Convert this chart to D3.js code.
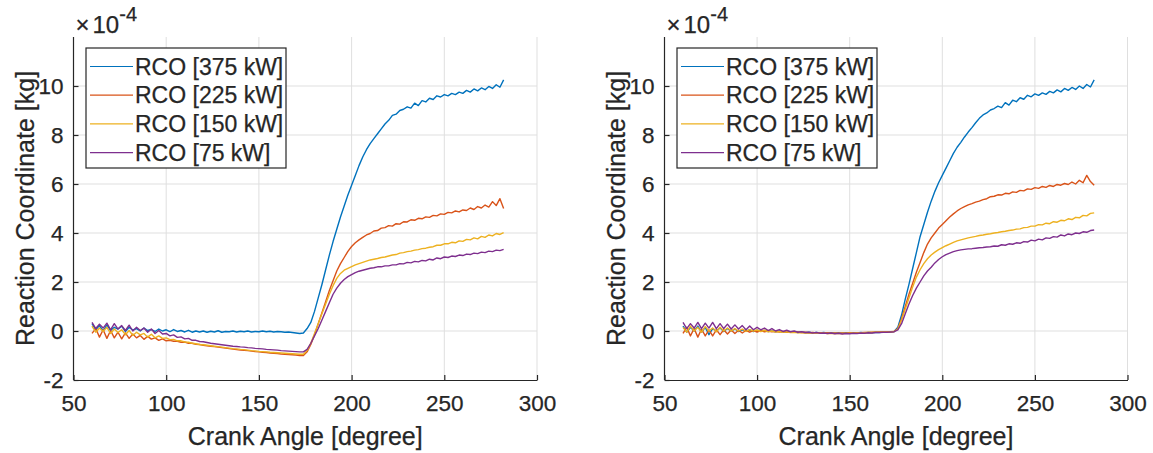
<!DOCTYPE html>
<html><head><meta charset="utf-8">
<script src="https://cdn.jsdelivr.net/npm/d3@7"></script>
<style>
body{margin:0;background:#fff;}
text{font-family:"Liberation Sans",Arial,Helvetica,sans-serif;fill:#262626;stroke:#262626;stroke-width:0.25px;}
</style>
</head><body>
<svg id="chart" width="1153" height="453"></svg>
<script>
// ---- Data (values in units of 1e-4 kg) ----
const crankAngle = [
 60,62,64,66,68,70,72,74,76,78,
 80,82,84,86,88,90,92,94,96,98,
 100,102,104,106,108,110,112,114,116,118,
 120,122,124,126,128,130,132,134,136,138,
 140,142,144,146,148,150,152,154,156,158,
 160,162,164,166,168,170,172,174,176,178,
 180,182,184,186,188,190,192,194,196,198,
 200,202,204,206,208,210,212,214,216,218,
 220,222,224,226,228,230,232,234,236,238,
 240,242,244,246,248,250,252,254,256,258,
 260,262,264,266,268,270,272,274,276,278,
 280,282];

const seriesNames = ["RCO [375 kW]","RCO [225 kW]","RCO [150 kW]","RCO [75 kW]"];
const xTicks = [50,100,150,200,250,300];
const yTicks = [-2,0,2,4,6,8,10];

const left375 = [
 0.30,0.05,0.22,0.00,0.25,0.02,0.15,0.08,0.20,-0.02,
 0.15,0.04,0.10,0.00,0.12,0.02,0.06,-0.02,0.08,0.00,
 0.05,-0.03,0.06,-0.02,0.02,-0.04,0.03,-0.05,0.00,-0.04,
 0.00,-0.05,-0.01,-0.04,0.01,-0.05,-0.02,-0.03,0.00,-0.04,
 -0.01,-0.03,0.00,-0.04,-0.02,-0.03,0.00,-0.03,-0.01,-0.04,
 -0.02,-0.03,-0.05,-0.04,-0.06,-0.08,-0.10,-0.08,0.10,0.35,
 0.80,1.35,1.90,2.50,3.10,3.65,4.15,4.65,5.10,5.55,
 5.95,6.35,6.75,7.10,7.40,7.65,7.85,8.05,8.25,8.45,
 8.60,8.80,8.85,9.00,9.05,9.15,9.10,9.30,9.20,9.40,
 9.35,9.50,9.45,9.60,9.55,9.65,9.60,9.70,9.65,9.75,
 9.70,9.82,9.75,9.88,9.80,9.92,9.85,9.98,9.90,10.05,
 9.95,10.25];
const left225 = [
 -0.10,0.10,-0.25,0.05,-0.30,0.02,-0.28,-0.05,-0.32,-0.08,
 -0.30,-0.12,-0.28,-0.18,-0.34,-0.22,-0.33,-0.28,-0.38,-0.32,
 -0.40,-0.38,-0.42,-0.42,-0.46,-0.45,-0.50,-0.50,-0.54,-0.55,
 -0.58,-0.60,-0.62,-0.64,-0.66,-0.68,-0.70,-0.72,-0.74,-0.76,
 -0.78,-0.79,-0.80,-0.82,-0.84,-0.85,-0.87,-0.88,-0.90,-0.91,
 -0.92,-0.94,-0.95,-0.96,-0.97,-0.98,-1.00,-1.00,-0.85,-0.55,
 -0.15,0.30,0.75,1.20,1.65,2.05,2.45,2.75,3.00,3.25,
 3.45,3.60,3.72,3.82,3.92,3.98,4.08,4.10,4.20,4.22,
 4.30,4.28,4.38,4.36,4.46,4.45,4.54,4.52,4.60,4.58,
 4.66,4.64,4.72,4.70,4.78,4.76,4.84,4.82,4.90,4.86,
 4.94,4.92,5.02,4.96,5.08,5.02,5.14,5.06,5.28,5.12,
 5.40,5.00];
const left150 = [
 0.20,-0.05,0.12,-0.02,0.15,-0.10,0.08,-0.06,0.05,-0.15,
 0.02,-0.18,-0.05,-0.16,-0.10,-0.25,-0.13,-0.28,-0.20,-0.30,
 -0.28,-0.35,-0.34,-0.40,-0.40,-0.45,-0.46,-0.50,-0.52,-0.55,
 -0.56,-0.58,-0.60,-0.62,-0.64,-0.66,-0.68,-0.70,-0.72,-0.73,
 -0.75,-0.76,-0.78,-0.80,-0.81,-0.83,-0.84,-0.85,-0.87,-0.88,
 -0.89,-0.90,-0.91,-0.92,-0.93,-0.94,-0.95,-0.95,-0.80,-0.50,
 -0.10,0.30,0.70,1.10,1.50,1.85,2.15,2.35,2.48,2.56,
 2.63,2.70,2.75,2.80,2.85,2.90,2.93,2.96,3.00,3.02,
 3.06,3.10,3.12,3.18,3.20,3.24,3.26,3.30,3.32,3.36,
 3.38,3.42,3.44,3.50,3.50,3.56,3.56,3.62,3.60,3.68,
 3.66,3.74,3.72,3.80,3.76,3.86,3.82,3.92,3.88,3.98,
 3.94,4.02];
const left75 = [
 0.35,0.10,0.28,0.12,0.32,0.05,0.30,0.08,0.22,0.02,
 0.24,0.00,0.15,0.02,0.12,-0.05,0.08,-0.10,0.02,-0.12,
 -0.10,-0.20,-0.16,-0.26,-0.24,-0.32,-0.30,-0.38,-0.38,-0.43,
 -0.44,-0.47,-0.50,-0.52,-0.54,-0.56,-0.58,-0.60,-0.62,-0.63,
 -0.65,-0.66,-0.68,-0.69,-0.71,-0.72,-0.73,-0.75,-0.76,-0.77,
 -0.78,-0.80,-0.81,-0.82,-0.83,-0.84,-0.85,-0.85,-0.75,-0.50,
 -0.20,0.10,0.45,0.80,1.15,1.50,1.75,1.95,2.10,2.22,
 2.30,2.38,2.44,2.48,2.52,2.56,2.58,2.62,2.62,2.66,
 2.66,2.70,2.70,2.75,2.74,2.80,2.78,2.84,2.82,2.88,
 2.86,2.93,2.90,2.98,2.95,3.02,3.00,3.06,3.04,3.10,
 3.08,3.14,3.12,3.18,3.16,3.22,3.20,3.26,3.24,3.30,
 3.28,3.33];

const right375 = [
 0.20,-0.05,0.15,0.00,0.20,-0.05,0.15,-0.15,0.10,0.00,
 0.12,-0.02,0.10,0.00,0.08,-0.02,0.05,0.00,0.04,-0.02,
 0.03,0.00,0.02,-0.02,0.00,-0.03,0.00,-0.04,-0.02,-0.05,
 -0.03,-0.06,-0.04,-0.07,-0.05,-0.08,-0.06,-0.08,-0.06,-0.09,
 -0.07,-0.09,-0.07,-0.09,-0.07,-0.08,-0.07,-0.08,-0.06,-0.08,
 -0.06,-0.07,-0.05,-0.06,-0.04,-0.05,-0.04,-0.02,0.15,0.65,
 1.30,1.90,2.55,3.20,3.85,4.35,4.85,5.30,5.70,6.05,
 6.35,6.65,6.95,7.25,7.50,7.70,7.92,8.12,8.30,8.50,
 8.68,8.82,8.90,9.02,9.08,9.18,9.12,9.32,9.22,9.42,
 9.36,9.52,9.46,9.62,9.56,9.68,9.62,9.72,9.66,9.78,
 9.72,9.84,9.76,9.90,9.82,9.94,9.86,10.00,9.90,10.06,
 9.96,10.25];
const right225 = [
 -0.10,0.15,-0.20,0.10,-0.25,0.08,-0.20,0.05,-0.20,0.05,
 -0.15,0.05,-0.12,0.04,-0.10,0.03,-0.08,0.02,-0.05,0.02,
 -0.04,0.02,-0.03,0.00,-0.03,-0.01,-0.04,-0.02,-0.05,-0.03,
 -0.05,-0.04,-0.06,-0.05,-0.07,-0.06,-0.08,-0.07,-0.08,-0.07,
 -0.09,-0.08,-0.09,-0.08,-0.09,-0.07,-0.08,-0.07,-0.07,-0.06,
 -0.06,-0.05,-0.05,-0.04,-0.04,-0.03,-0.03,-0.02,0.10,0.50,
 1.00,1.50,1.95,2.40,2.80,3.20,3.55,3.80,4.00,4.20,
 4.35,4.50,4.65,4.78,4.90,5.00,5.08,5.15,5.20,5.26,
 5.30,5.36,5.40,5.48,5.50,5.56,5.55,5.62,5.60,5.68,
 5.66,5.74,5.72,5.80,5.78,5.85,5.82,5.90,5.86,5.94,
 5.90,5.98,5.95,6.02,5.98,6.08,6.00,6.15,6.05,6.35,
 6.10,5.95];
const right150 = [
 0.15,-0.05,0.20,0.00,0.15,-0.05,0.18,0.00,0.12,-0.03,
 0.15,0.00,0.12,0.00,0.10,0.00,0.08,-0.02,0.06,0.00,
 0.04,-0.02,0.03,-0.03,0.00,-0.04,-0.02,-0.05,-0.03,-0.06,
 -0.05,-0.07,-0.06,-0.08,-0.07,-0.09,-0.08,-0.09,-0.08,-0.10,
 -0.09,-0.10,-0.09,-0.10,-0.09,-0.09,-0.08,-0.08,-0.07,-0.07,
 -0.06,-0.06,-0.05,-0.05,-0.04,-0.04,-0.03,-0.02,0.08,0.45,
 0.90,1.35,1.80,2.20,2.50,2.75,2.95,3.10,3.22,3.32,
 3.40,3.48,3.55,3.62,3.68,3.72,3.76,3.80,3.83,3.86,
 3.90,3.92,3.95,3.97,4.00,4.02,4.05,4.07,4.10,4.12,
 4.16,4.17,4.22,4.23,4.28,4.28,4.34,4.33,4.40,4.38,
 4.46,4.44,4.52,4.50,4.58,4.55,4.64,4.62,4.72,4.70,
 4.80,4.82];
const right75 = [
 0.35,0.10,0.30,0.12,0.35,0.10,0.32,0.12,0.35,0.10,
 0.30,0.10,0.28,0.08,0.25,0.08,0.22,0.05,0.20,0.05,
 0.15,0.05,0.12,0.02,0.10,0.00,0.06,-0.02,0.03,-0.03,
 0.00,-0.05,-0.03,-0.06,-0.05,-0.08,-0.06,-0.09,-0.08,-0.10,
 -0.08,-0.11,-0.09,-0.12,-0.10,-0.11,-0.09,-0.10,-0.08,-0.09,
 -0.07,-0.08,-0.06,-0.06,-0.05,-0.05,-0.04,-0.03,0.05,0.30,
 0.70,1.10,1.45,1.75,2.00,2.25,2.45,2.60,2.78,2.92,
 3.03,3.12,3.18,3.24,3.28,3.31,3.33,3.35,3.36,3.38,
 3.40,3.41,3.43,3.44,3.47,3.46,3.52,3.50,3.56,3.54,
 3.60,3.58,3.65,3.63,3.71,3.68,3.75,3.72,3.80,3.78,
 3.85,3.83,3.92,3.88,3.96,3.93,4.00,3.98,4.05,4.03,
 4.10,4.12];

// ---- Drawing ----
const colors = ["#0072BD","#D95319","#EDB120","#7E2F8E"];
const svg = d3.select("#chart");
const axisColor = "#262626";
const gridColor = "#dfdfdf";

function drawPanel(x0, x1, series){
  const top = 37, bottom = 380;
  const x = d3.scaleLinear().domain([50,300]).range([x0,x1]);
  const y = d3.scaleLinear().domain([-2,12]).range([bottom,top]);
  const g = svg.append("g");

  // grid
  g.append("g").selectAll("line").data(xTicks.slice(1)).join("line")
    .attr("x1",d=>x(d)).attr("x2",d=>x(d)).attr("y1",top).attr("y2",bottom)
    .attr("stroke",gridColor).attr("stroke-width",1);
  g.append("g").selectAll("line").data(yTicks.slice(1)).join("line")
    .attr("x1",x0).attr("x2",x1).attr("y1",d=>y(d)).attr("y2",d=>y(d))
    .attr("stroke",gridColor).attr("stroke-width",1);

  // lines
  const line = d3.line().x((d,i)=>x(crankAngle[i])).y(d=>y(d));
  series.forEach((s,k)=>{
    g.append("path").datum(s).attr("d",line).attr("fill","none")
      .attr("stroke",colors[k]).attr("stroke-width",1.4).attr("stroke-linejoin","round");
  });

  // axes
  const fmt = d => String(d);
  const xa = g.append("g").attr("transform",`translate(0,${bottom})`)
    .call(d3.axisBottom(x).tickValues(xTicks).tickFormat(fmt).tickSize(-5).tickSizeOuter(0).tickPadding(15));
  const ya = g.append("g").attr("transform",`translate(${x0},0)`)
    .call(d3.axisLeft(y).tickValues(yTicks).tickFormat(fmt).tickSize(-5).tickSizeOuter(0).tickPadding(10));
  [xa,ya].forEach(a=>{
    a.select(".domain").attr("stroke",axisColor).attr("stroke-width",1.2);
    a.selectAll(".tick line").attr("stroke",axisColor).attr("stroke-width",1.2);
    a.selectAll(".tick text").attr("fill",axisColor).style("font-size","22.5px")
      .style("font-family","'Liberation Sans',Arial,sans-serif");
  });
  ya.select(".domain").attr("d",`M0,${bottom}V${top}`);

  // exponent
  const ex = g.append("text").attr("x",x0+2).attr("y",33);
  ex.append("tspan").style("font-size","24px").text("\u00d7");
  ex.append("tspan").attr("dx",3).style("font-size","24px").text("10");
  ex.append("tspan").attr("dy",-12).style("font-size","20px").text("-4");

  // labels
  g.append("text").attr("x",(x0+x1)/2).attr("y",445).attr("text-anchor","middle")
    .style("font-size","25px").text("Crank Angle [degree]");
  g.append("text").attr("transform",`translate(${x0-40},${(top+bottom)/2}) rotate(-90)`)
    .attr("text-anchor","middle").style("font-size","25px").text("Reaction Coordinate [kg]");

  // legend
  const lx = x0+12.5, ly = 48;
  const lg = g.append("g");
  lg.append("rect").attr("x",lx).attr("y",ly).attr("width",200).attr("height",120)
    .attr("fill","#fff").attr("stroke",axisColor).attr("stroke-width",1.2);
  seriesNames.forEach((n,k)=>{
    const cy = ly + 18.5 + k*28.7;
    lg.append("line").attr("x1",lx+4).attr("x2",lx+47).attr("y1",cy).attr("y2",cy)
      .attr("stroke",colors[k]).attr("stroke-width",1.2);
    lg.append("text").attr("x",lx+49).attr("y",cy).attr("dy","0.36em")
      .style("font-size","23px").text(n);
  });
}

drawPanel(73.5, 537, [left375,left225,left150,left75]);
drawPanel(664.5, 1127.5, [right375,right225,right150,right75]);
</script>
</body></html>
